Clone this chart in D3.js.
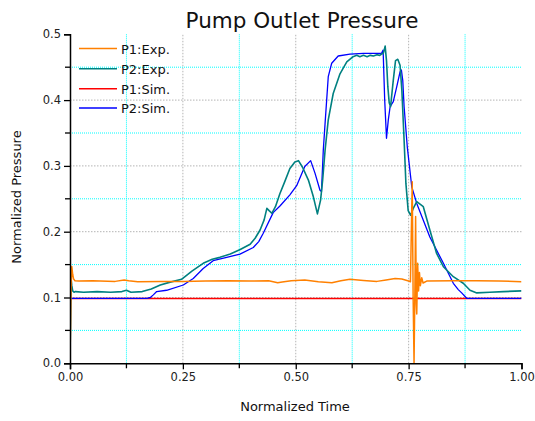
<!DOCTYPE html>
<html><head><meta charset="utf-8">
<script src="https://cdn.jsdelivr.net/npm/d3@7"></script>
<style>body{margin:0;background:#fff}svg{display:block}text{font-family:"DejaVu Sans",Verdana,sans-serif}</style>
</head><body><svg id="c" width="535" height="421"></svg>
<script>
const title = "Pump Outlet Pressure";
const xLabel = "Normalized Time";
const yLabel = "Normalized Pressure";
const seriesNames = ["P1:Exp.", "P2:Exp.", "P1:Sim.", "P2:Sim."];
const seriesColors = ["#ff8000", "#008080", "#ff0000", "#0000ff"];
const xTicks = [0, 0.25, 0.5, 0.75, 1.0];
const yTicks = [0, 0.1, 0.2, 0.3, 0.4, 0.5];
const xMinor = [0.125, 0.375, 0.625, 0.875];
const yMinor = [0.05, 0.15, 0.25, 0.35, 0.45];

const p1ExpT = [0,0.002,0.004,0.006,0.008,0.011,0.02,0.05,0.1,0.12,0.13,0.15,0.2,0.25,0.3,0.35,0.4,0.44,0.46,0.47,0.49,0.52,0.55,0.58,0.6,0.62,0.65,0.68,0.7,0.72,0.735,0.75,0.754,0.756,0.758,0.760,0.762,0.764,0.7655,0.767,0.768,0.770,0.772,0.774,0.776,0.779,0.782,0.79,0.85,0.9,0.95,1.0];
const p1ExpV = [0,0.10,0.147,0.135,0.128,0.1255,0.125,0.1255,0.1245,0.1265,0.1255,0.124,0.1245,0.1245,0.125,0.1255,0.125,0.1255,0.1225,0.1235,0.1255,0.1265,0.124,0.1225,0.1255,0.1277,0.126,0.1245,0.1266,0.129,0.128,0.125,0.124,0.20,0.276,0.10,0.0,0.12,0.223,0.09,0.075,0.152,0.11,0.138,0.118,0.13,0.122,0.125,0.1255,0.1255,0.125,0.124];

const p2ExpT = [0,0.002,0.004,0.006,0.009,0.012,0.03,0.06,0.09,0.115,0.125,0.135,0.16,0.18,0.2,0.22,0.247,0.27,0.295,0.315,0.332,0.355,0.377,0.399,0.41,0.421,0.43,0.436,0.441,0.447,0.455,0.465,0.475,0.487,0.498,0.506,0.515,0.528,0.539,0.548,0.555,0.5596,0.565,0.572,0.583,0.598,0.613,0.627,0.635,0.642,0.65,0.658,0.665,0.672,0.68,0.686,0.69,0.694,0.698,0.701,0.704,0.707,0.710,0.716,0.721,0.726,0.731,0.735,0.740,0.744,0.749,0.7545,0.76,0.768,0.7825,0.797,0.812,0.827,0.849,0.871,0.886,0.901,0.93,0.96,1.0];
const p2ExpV = [0,0.13,0.118,0.11,0.108,0.109,0.108,0.109,0.108,0.109,0.111,0.108,0.109,0.113,0.119,0.123,0.1276,0.14,0.152,0.158,0.161,0.166,0.173,0.181,0.19,0.2026,0.218,0.2355,0.232,0.228,0.238,0.258,0.275,0.296,0.306,0.308,0.298,0.2785,0.253,0.227,0.248,0.2786,0.324,0.37,0.41,0.44,0.458,0.466,0.468,0.466,0.468,0.466,0.468,0.467,0.469,0.468,0.47,0.471,0.482,0.46,0.42,0.396,0.39,0.43,0.46,0.462,0.453,0.415,0.339,0.273,0.232,0.225,0.235,0.2456,0.238,0.2026,0.167,0.1468,0.1316,0.1216,0.111,0.107,0.108,0.109,0.110];

const p1SimT = [0, 1.0];
const p1SimV = [0.0985, 0.0985];

const p2SimT = [0,0.17,0.178,0.1845,0.192,0.214,0.251,0.273,0.295,0.317,0.347,0.3765,0.406,0.418,0.428,0.45,0.465,0.487,0.502,0.52,0.533,0.5426,0.5537,0.557,0.561,0.565,0.572,0.5796,0.594,0.62,0.65,0.69,0.6935,0.697,0.701,0.705,0.709,0.716,0.7236,0.731,0.734,0.737,0.740,0.747,0.757,0.768,0.797,0.827,0.849,0.86,0.8675,0.8786,1.0];
const p2SimV = [0.0988,0.0988,0.1,0.104,0.109,0.111,0.119,0.129,0.144,0.156,0.161,0.166,0.176,0.185,0.1976,0.229,0.239,0.256,0.27,0.299,0.308,0.289,0.263,0.261,0.324,0.365,0.4356,0.456,0.467,0.47,0.471,0.471,0.476,0.40,0.342,0.37,0.39,0.3976,0.42,0.443,0.4457,0.43,0.39,0.329,0.268,0.243,0.192,0.152,0.1216,0.112,0.107,0.0988,0.0988];

const svg = d3.select("#c");
const x = d3.scaleLinear().domain([0, 1]).range([70, 521.5]);
const y = d3.scaleLinear().domain([0, 0.5]).range([363.3, 34.3]);

// grid
const g = svg.append("g");
g.selectAll(".vm").data(xMinor).join("line").attr("x1", d=>x(d)).attr("x2", d=>x(d)).attr("y1", y(0)).attr("y2", y(0.5))
  .attr("stroke", "#00ffff").attr("stroke-dasharray", "1,1");
g.selectAll(".vM").data(xTicks.slice(1, 4)).join("line").attr("x1", d=>x(d)).attr("x2", d=>x(d)).attr("y1", y(0)).attr("y2", y(0.5))
  .attr("stroke", "#b4b4b4").attr("stroke-dasharray", "1.5,1.5");
g.selectAll(".hm").data(yMinor).join("line").attr("y1", d=>y(d)).attr("y2", d=>y(d)).attr("x1", x(0)).attr("x2", x(1))
  .attr("stroke", "#00ffff").attr("stroke-dasharray", "1,1");
g.selectAll(".hM").data(yTicks.slice(1, 5)).join("line").attr("y1", d=>y(d)).attr("y2", d=>y(d)).attr("x1", x(0)).attr("x2", x(1))
  .attr("stroke", "#b4b4b4").attr("stroke-dasharray", "1.5,1.5");

// series
const zip = (t, v) => t.map((d, i) => [d, v[i]]);
const line = d3.line().x(d => x(d[0])).y(d => y(d[1]));
svg.append("clipPath").attr("id", "clp").append("rect").attr("x", x(0)).attr("y", y(0.5)).attr("width", x(1)-x(0)).attr("height", y(0)-y(0.5));
const pg = svg.append("g").attr("clip-path", "url(#clp)");
const drawOrder = [
  {d: zip(p1SimT, p1SimV), c: seriesColors[2], w: 1.3},
  {d: zip(p2SimT, p2SimV), c: seriesColors[3], w: 1.3},
  {d: zip(p2ExpT, p2ExpV), c: seriesColors[1], w: 1.6},
  {d: zip(p1ExpT, p1ExpV), c: seriesColors[0], w: 1.5}
];
drawOrder.forEach(s => pg.append("path").attr("d", line(s.d)).attr("fill", "none").attr("stroke", s.c).attr("stroke-width", s.w).attr("stroke-linejoin", "round"));

// axes
const xAxis = d3.axisBottom(x).tickValues(xTicks).tickFormat(d3.format(".2f")).tickSize(6).tickPadding(4);
const yAxis = d3.axisLeft(y).tickValues(yTicks).tickFormat(d3.format(".1f")).tickSize(6).tickPadding(3);
const xa = svg.append("g").attr("transform", `translate(0,${y(0)})`).call(xAxis);
const ya = svg.append("g").attr("transform", `translate(${x(0)},0)`).call(yAxis);
[xa, ya].forEach(a => {
  a.select(".domain").attr("stroke", "#000").attr("stroke-width", 1.5);
  a.selectAll(".tick line").attr("stroke", "#000").attr("stroke-width", 1.3);
  a.selectAll("text").attr("font-family", "DejaVu Sans").attr("font-size", 11.5).attr("fill", "#222");
});
xa.selectAll(".mt").data(xMinor).join("line").attr("x1", d=>x(d)).attr("x2", d=>x(d)).attr("y1", 0).attr("y2", 5).attr("stroke", "#000").attr("stroke-width", 1.3);
ya.selectAll(".mt").data(yMinor).join("line").attr("y1", d=>y(d)).attr("y2", d=>y(d)).attr("x1", 0).attr("x2", -5).attr("stroke", "#000").attr("stroke-width", 1.3);

// titles
svg.append("text").attr("x", 302).attr("y", 28).attr("text-anchor", "middle").attr("font-size", 21.5).attr("fill", "#111").text(title);
svg.append("text").attr("x", 295).attr("y", 411).attr("text-anchor", "middle").attr("font-size", 13).attr("fill", "#111").text(xLabel);
svg.append("text").attr("transform", "translate(21,197) rotate(-90)").attr("text-anchor", "middle").attr("font-size", 13).attr("fill", "#111").text(yLabel);

// legend
const lg = svg.append("g");
const legY = [48.5, 68.7, 88.7, 108];
seriesNames.forEach((n, i) => {
  lg.append("line").attr("x1", 79).attr("x2", 117).attr("y1", legY[i]).attr("y2", legY[i]).attr("stroke", seriesColors[i]).attr("stroke-width", 1.5);
  lg.append("text").attr("x", 121).attr("y", legY[i] + 5).attr("font-size", 13).attr("fill", "#111").text(n);
});
</script></body></html>
